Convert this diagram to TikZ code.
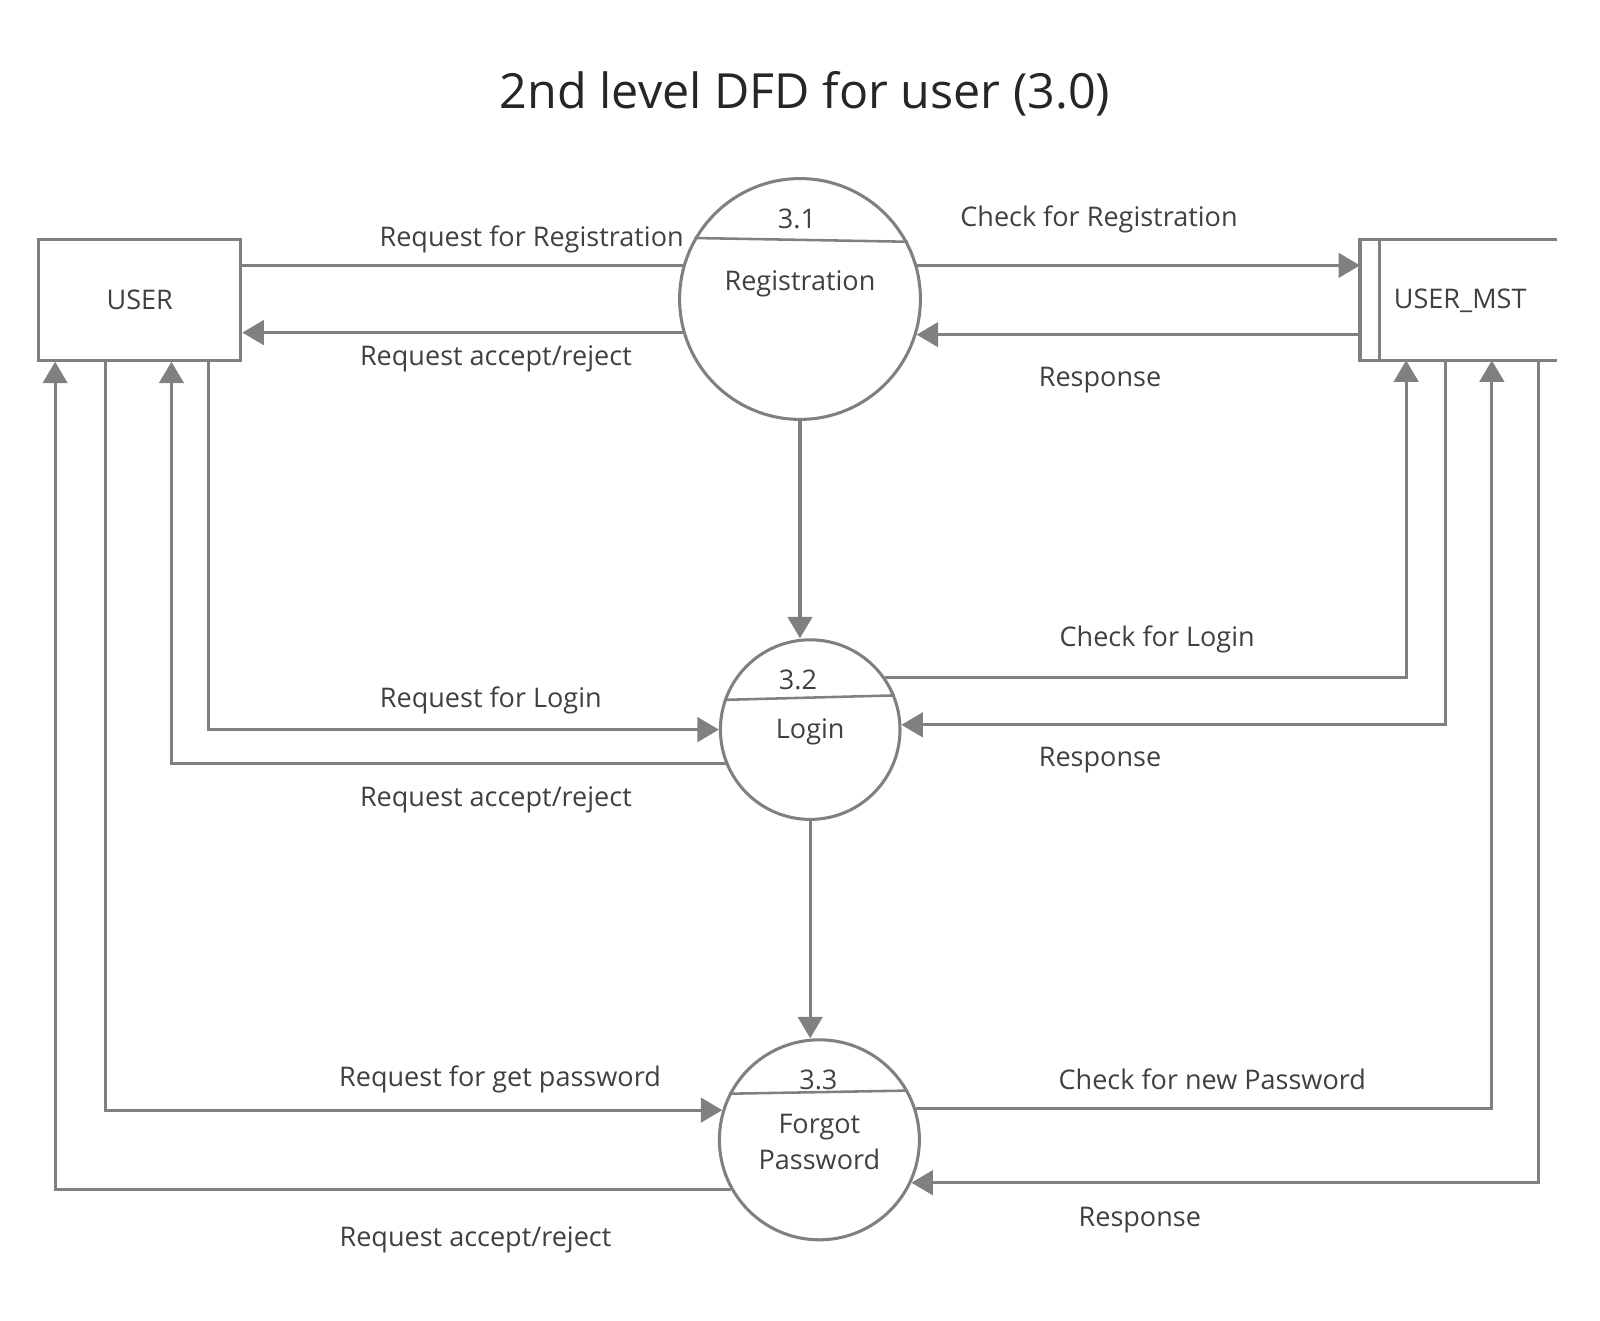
\documentclass[tikz,border=0pt]{standalone}
\usepackage{fontspec}
\setmainfont{Open Sans}
\usetikzlibrary{arrows.meta}
\definecolor{linegray}{HTML}{808080}
\definecolor{textgray}{HTML}{404040}
\tikzset{
  plain/.style={draw=linegray, line width=3pt},
  flow/.style={plain, -{Triangle[length=21pt,width=24pt]}},
  proc/.style={circle, draw=linegray, line width=3pt, inner sep=0pt},
  lbl/.style={text=textgray, font=\fontsize{26.5}{36}\selectfont, inner sep=0pt},
}

\begin{document}
\begin{tikzpicture}[x=1pt, y=-1pt]
      \useasboundingbox (0,0) rectangle (1568,1294);
      \node[lbl, text=black!85, font=\fontsize{47.5}{56}\selectfont] (title) at (789,92) {2nd level DFD for user (3.0)};
      % entity and data store
      \node[lbl, draw=linegray, line width=3pt, minimum width=198pt, minimum height=118pt] (user) at (137,294) {USER};
      \node[minimum width=193pt, minimum height=118pt] (mst) at (1429.5,294) {};
      \draw[plain] (mst.north east) -- (mst.north west) -- (mst.south west) -- (mst.south east);
      \draw[plain] ([xshift=19pt]mst.north west) -- ([xshift=19pt]mst.south west);
      \node[lbl] (mstname) at (1431,295) {USER\_MST};
      % processes
      \node[proc, minimum size=236pt] (reg) at (784,293) {};
      \node[proc, minimum size=176pt] (log) at (794,715) {};
      \node[proc, minimum size=196pt] (fgt) at (803,1117) {};
      \draw[plain, line width=2.5pt] (reg.150) -- (reg.28);
      \draw[plain, line width=2.5pt] (log.161) -- (log.22);
      \draw[plain, line width=2.5pt] (fgt.153) -- (fgt.29);
      \node[lbl] (regid) at (781,215) {3.1};
      \node[lbl] (regname) at (784,278) {Registration};
      \node[lbl] (logid) at (782,666) {3.2};
      \node[lbl] (logname) at (794,717) {Login};
      \node[lbl] (fgtid) at (802,1058) {3.3};
      \node[lbl, align=center] (fgtname) at (803,1119) {Forgot\\Password};
      % columns under the boxes
      \foreach \n/\x in {ua/54, ub/103, uc/168, ud/204, ma/1378, mb/1417, mc/1462, md/1508}
        \coordinate (\n) at (\x,0);
      % 3.1
      \draw[plain] (reg.164) -- (reg.164 -| user.east);
      \draw[flow] (reg.196) -- (reg.196 -| user.east);
      \draw[flow] (reg.16) -- (reg.16 -| mst.west);
      \draw[flow] (mst.west |- reg.-17) -- (reg.-17);
      \draw[flow] (reg.south) -- (reg.south |- log.north);
      % 3.2
      \draw[flow] (ud |- user.south) -- (ud |- log.west) -- (log.west);
      \draw[flow] (log.202) -- (log.202 -| uc) -- (uc |- user.south);
      \draw[flow] (log.35) -- (log.35 -| ma) -- (ma |- mst.south);
      \draw[flow] (mb |- mst.south) -- (mb |- log.3) -- (log.3);
      \draw[flow] (log.south) -- (log.south |- fgt.north);
      % 3.3
      \draw[flow] (ub |- user.south) -- (ub |- fgt.163) -- (fgt.163);
      \draw[flow] (fgt.209) -- (fgt.209 -| ua) -- (ua |- user.south);
      \draw[flow] (fgt.18) -- (fgt.18 -| mc) -- (mc |- mst.south);
      \draw[flow] (md |- mst.south) -- (md |- fgt.-25) -- (fgt.-25);
      % flow labels
      \node[lbl] (l1) at (521,235) {Request for Registration};
      \node[lbl] (l2) at (486,352) {Request accept/reject};
      \node[lbl] (l3) at (1077,215) {Check for Registration};
      \node[lbl] (l4) at (1078,372) {Response};
      \node[lbl] (l5) at (481,686) {Request for Login};
      \node[lbl] (l6) at (486,784) {Request accept/reject};
      \node[lbl] (l7) at (1134,627) {Check for Login};
      \node[lbl] (l8) at (1078,745) {Response};
      \node[lbl] (l9) at (490,1058) {Request for get password};
      \node[lbl] (l10) at (466,1215) {Request accept/reject};
      \node[lbl] (l11) at (1188,1058) {Check for new Password};
      \node[lbl] (l12) at (1117,1196) {Response};
\end{tikzpicture}
\end{document}
